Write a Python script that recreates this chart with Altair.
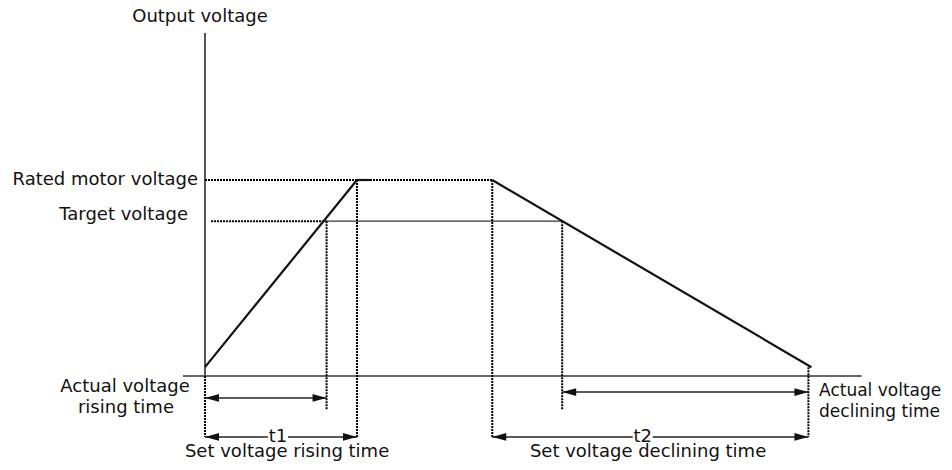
import altair as alt
import pandas as pd

# ---- values (time in s, voltage in % of rated) ----
RATED_V = 100
TARGET_V = 79
START_V = 4.5
T_TARGET_UP = 8.0      # actual rising time end
T_RATED_UP = 10.0      # set rising time end (t1)
T_DOWN_START = 18.9    # start of decline
T_TARGET_DOWN = 23.5   # target voltage reached on decline
T_DOWN_END = 39.7      # end of decline (t2)
T_RAMP_END = 39.9

# solid voltage ramp segments
RAMP_T0 = [0, T_RATED_UP, T_DOWN_START]
RAMP_T1 = [T_RATED_UP, 10.9, T_RAMP_END]
RAMP_V0 = [START_V, RATED_V, RATED_V]
RAMP_V1 = [RATED_V, RATED_V, START_V]

# dotted guide segments
DOT_T0 = [0, 0.4, T_TARGET_UP, T_RATED_UP, T_DOWN_START, T_TARGET_DOWN, T_DOWN_END, 0]
DOT_T1 = [T_DOWN_START, T_TARGET_UP, T_TARGET_UP, T_RATED_UP, T_DOWN_START, T_TARGET_DOWN, T_DOWN_END, 0]
DOT_V0 = [RATED_V, TARGET_V, TARGET_V, RATED_V, RATED_V, TARGET_V, START_V, 0]
DOT_V1 = [RATED_V, TARGET_V, -17.3, -31.1, -31.1, -17.3, -31.1, -31.1]

# thin solid segments (target level, horizontal axis)
THIN_T0 = [T_TARGET_UP, -1.45]
THIN_T1 = [T_TARGET_DOWN, 43.2]
THIN_V0 = [TARGET_V, 0]
THIN_V1 = [TARGET_V, 0]

# vertical axis
YAXIS_T = [0, 0]
YAXIS_V = [0, 175]

# double arrows
ARR_T0 = [0, 0, T_TARGET_DOWN, T_DOWN_START]
ARR_T1 = [T_TARGET_UP, T_RATED_UP, T_DOWN_END, T_DOWN_END]
ARR_V = [-11.2, -31.1, -8.2, -31.1]

# labels
LBL_TEXT = ["Output voltage", "Rated motor voltage", "Target voltage",
            "Actual voltage", "rising time", "Set voltage rising time",
            "Actual voltage", "declining time", "Set voltage declining time",
            "t1", "t2"]
LBL_T = [-0.33, -0.46, -1.12, -5.26, -5.2, 5.4, 40.4, 40.4, 29.15, 4.8, 28.8]
LBL_V = [183.2, 100, 82.1, -5.6, -16.3, -38.6, -7.6, -18.4, -38.8, -31.1, -31.1]
LBL_ALIGN = ["center", "right", "right", "center", "center", "center",
             "left", "left", "center", "center", "center"]
LBL_SIZE = [18, 18, 18, 18, 18, 18, 17, 17, 18, 18, 18]

X_DOMAIN = [-12.96, 48.62]
Y_DOMAIN = [-43.88, 187.76]

xs = alt.Scale(domain=X_DOMAIN, nice=False, zero=False)
ys = alt.Scale(domain=Y_DOMAIN, nice=False, zero=False)


def seg_df(t0, t1, v0, v1):
    return pd.DataFrame({"t": t0, "t2": t1, "v": v0, "v2": v1})


def seg_layer(df, color, width, dash=None):
    kw = dict(color=color, strokeWidth=width)
    if dash:
        kw["strokeDash"] = dash
    return alt.Chart(df).mark_rule(**kw).encode(
        x=alt.X("t:Q", scale=xs, axis=None),
        x2="t2:Q",
        y=alt.Y("v:Q", scale=ys, axis=None),
        y2="v2:Q",
    )


ramp = seg_layer(seg_df(RAMP_T0, RAMP_T1, RAMP_V0, RAMP_V1), "#111", 2.2)
dots = seg_layer(seg_df(DOT_T0, DOT_T1, DOT_V0, DOT_V1), "#000", 2, [2, 1])
thin = seg_layer(seg_df(THIN_T0, THIN_T1, THIN_V0, THIN_V1), "#333", 1.4)
yaxis = seg_layer(seg_df([YAXIS_T[0]], [YAXIS_T[1]], [YAXIS_V[0]], [YAXIS_V[1]]), "#555", 2)
arrows = seg_layer(seg_df(ARR_T0, ARR_T1, ARR_V, ARR_V), "#222", 1.4)

heads_left = alt.Chart(pd.DataFrame({"t": ARR_T0, "v": ARR_V})).mark_point(
    shape="M0,0L1,-0.28L1,0.28Z", filled=True, size=784, color="#111", opacity=1
).encode(x=alt.X("t:Q", scale=xs, axis=None), y=alt.Y("v:Q", scale=ys, axis=None))
heads_right = alt.Chart(pd.DataFrame({"t": ARR_T1, "v": ARR_V})).mark_point(
    shape="M0,0L-1,-0.28L-1,0.28Z", filled=True, size=784, color="#111", opacity=1
).encode(x=alt.X("t:Q", scale=xs, axis=None), y=alt.Y("v:Q", scale=ys, axis=None))

lbl = pd.DataFrame({"text": LBL_TEXT, "t": LBL_T, "v": LBL_V,
                    "align": LBL_ALIGN, "size": LBL_SIZE})

# white backing behind t1 / t2 so the arrow line is interrupted
gap = alt.Chart(lbl[lbl["text"].isin(["t1", "t2"])]).mark_square(
    color="white", size=400, opacity=1
).encode(x=alt.X("t:Q", scale=xs, axis=None), y=alt.Y("v:Q", scale=ys, axis=None))

text_layers = []
for a in ["left", "center", "right"]:
    for s in sorted(set(LBL_SIZE)):
        sub = lbl[(lbl["align"] == a) & (lbl["size"] == s)]
        if len(sub) == 0:
            continue
        text_layers.append(
            alt.Chart(sub).mark_text(
                align=a, baseline="middle", font="DejaVu Sans", fontSize=s, color="#111"
            ).encode(
                x=alt.X("t:Q", scale=xs, axis=None),
                y=alt.Y("v:Q", scale=ys, axis=None),
                text="text:N",
            )
        )

chart = alt.layer(
    thin, yaxis, dots, ramp, arrows, heads_left, heads_right, gap, *text_layers
).properties(
    width=936, height=454, autosize=alt.AutoSizeParams(type="none"), padding=0,
    background="white"
).configure_view(stroke=None)

chart.save("out.html", embed_options={"renderer": "svg", "actions": False})
